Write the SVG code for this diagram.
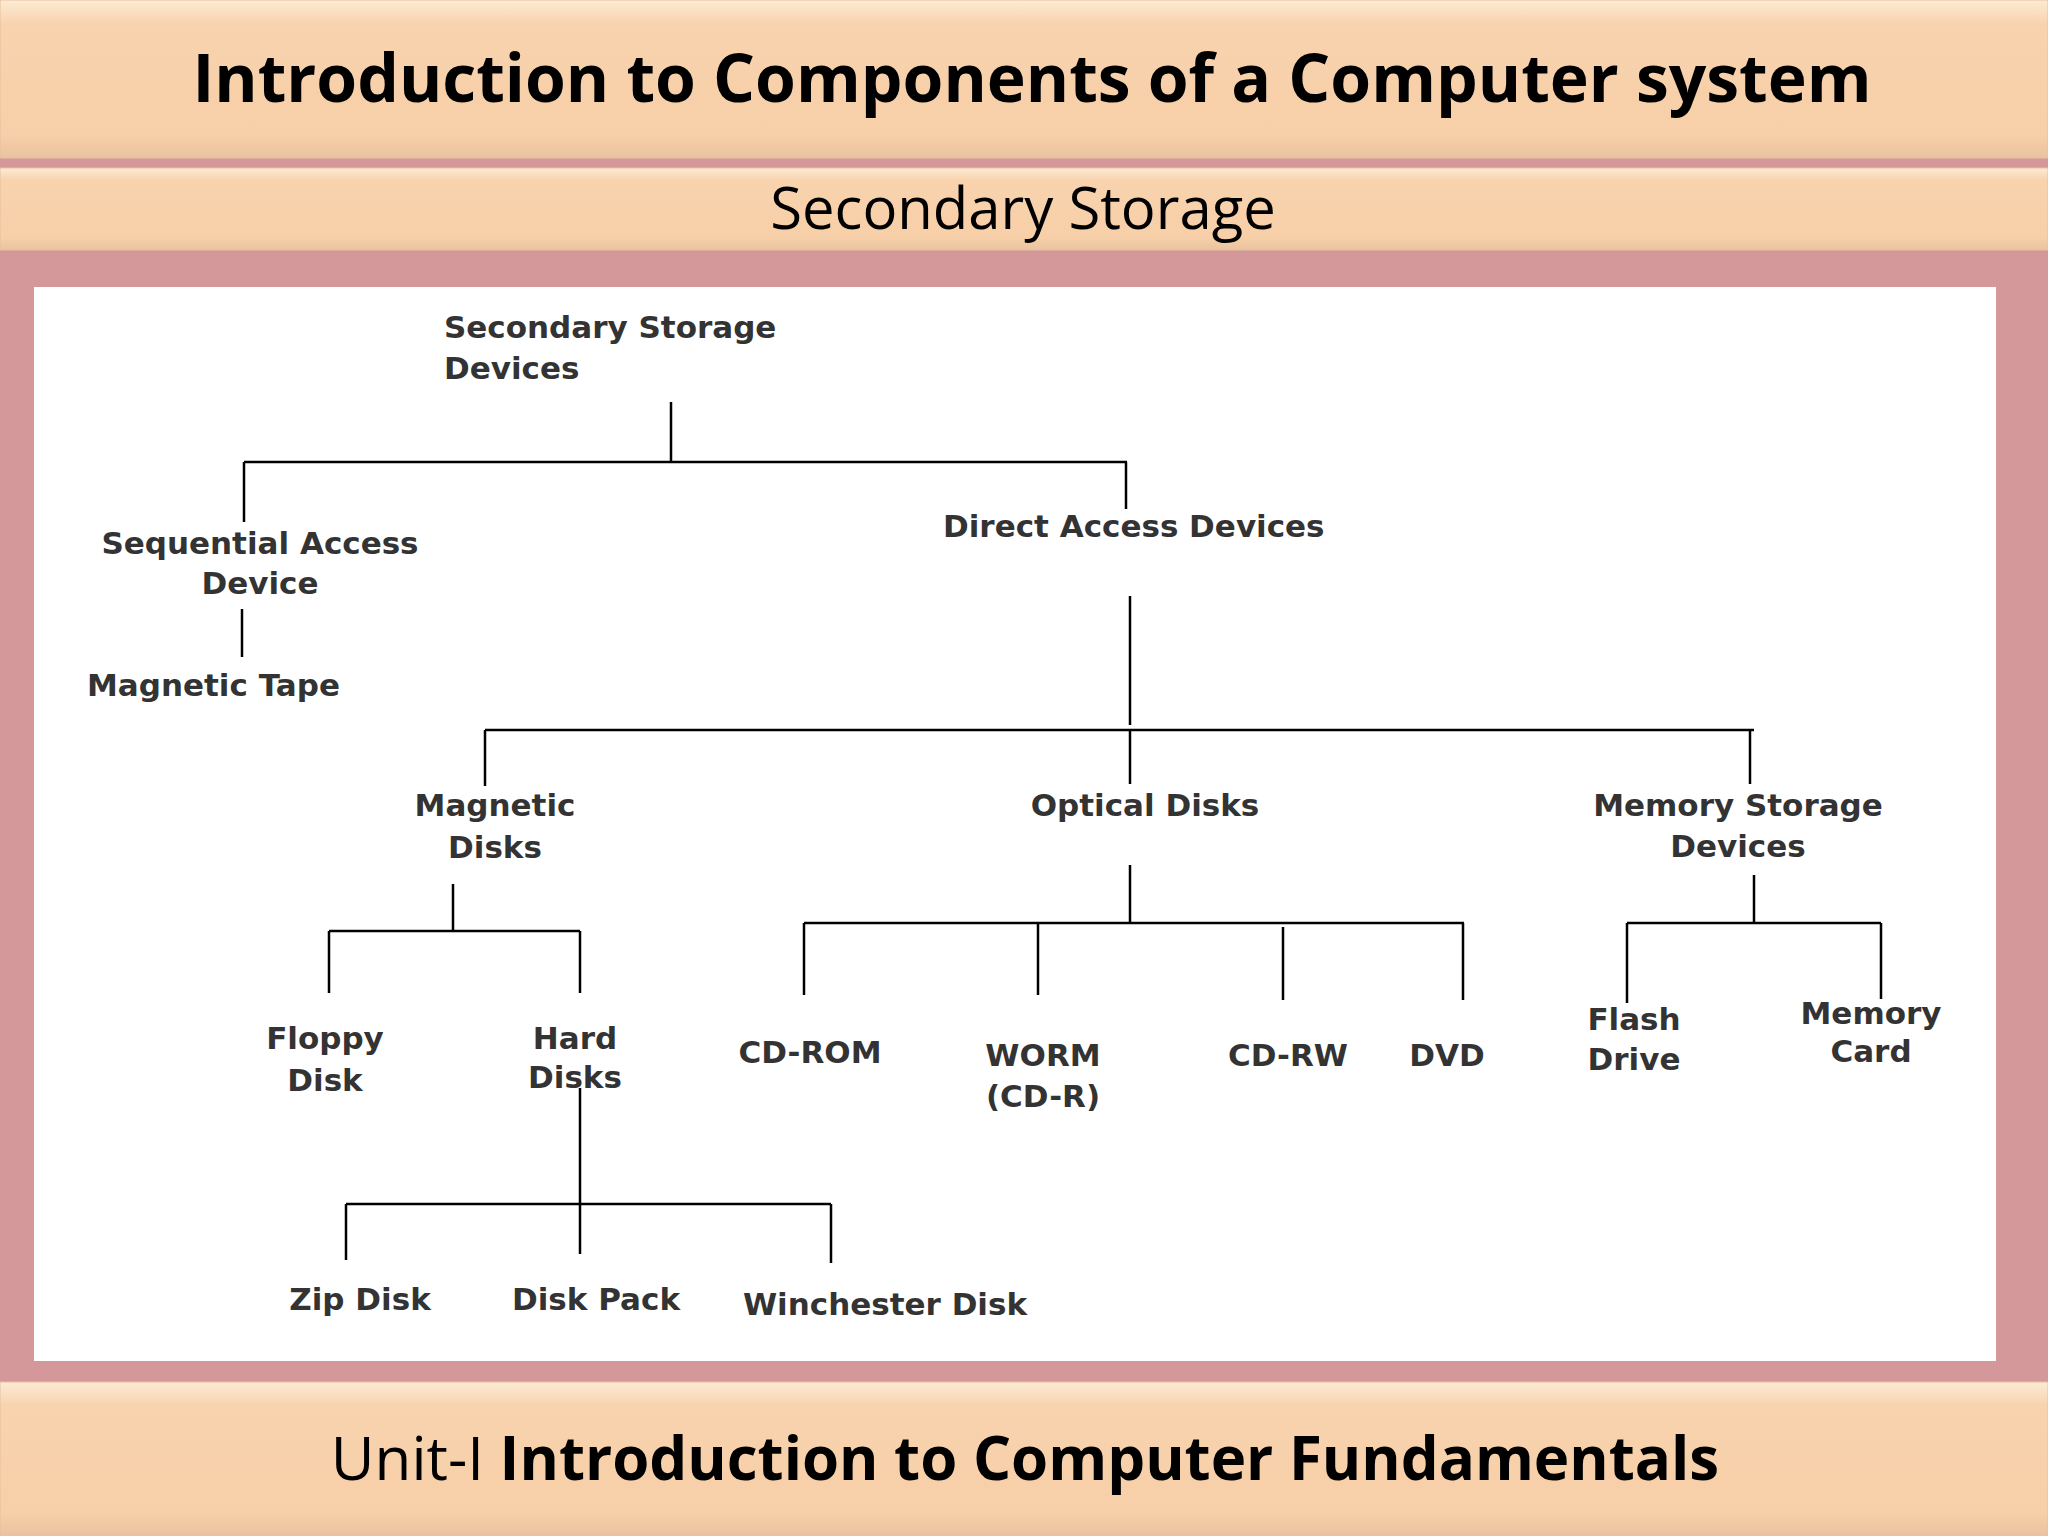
<svg xmlns="http://www.w3.org/2000/svg" width="2048" height="1536" viewBox="0 0 2048 1536">
<defs>
<linearGradient id="ban" x1="0" y1="0" x2="0" y2="1">
<stop offset="0" stop-color="#FCEBD5"/><stop offset="0.15" stop-color="#F8D3AE"/><stop offset="0.85" stop-color="#F7CFA8"/><stop offset="1" stop-color="#E9C3A0"/>
</linearGradient>
<style>
.t{font-family:"DejaVu Sans",Verdana,sans-serif;font-weight:bold;font-size:31px;fill:#333;text-anchor:middle}
.l{stroke:#000;stroke-width:2.5;fill:none}
</style>
</defs>
<rect width="2048" height="1536" fill="#D4989A"/>
<rect x="0" y="0" width="2048" height="158" fill="url(#ban)" stroke="#E6C09C"/>
<rect x="0" y="168" width="2048" height="82" fill="url(#ban)" stroke="#E6C09C"/>
<rect x="0" y="1382" width="2048" height="154" fill="url(#ban)" stroke="#E6C09C"/>
<text x="1032" y="102" font-family="'Open Sans',sans-serif" font-weight="bold" font-size="66" text-anchor="middle" fill="#000">Introduction to Components of a Computer system</text>
<text x="1023" y="229" font-family="'Open Sans',sans-serif" font-size="58" text-anchor="middle" fill="#000">Secondary Storage</text>
<text x="1025" y="1480" font-family="'Open Sans',sans-serif" font-size="60" text-anchor="middle" fill="#000">Unit-I <tspan font-weight="bold">Introduction to Computer Fundamentals</tspan></text>
<rect x="34" y="287" width="1962" height="1074" fill="#fff"/>
<g id="connectors" class="l">
<path d="M671 402V462M244 462H1127M244 462V522M1126 462V509"/>
<path d="M242 609V657"/>
<path d="M1130 596V725M485 730H1754M485 730V786M1130 730V784M1750 730V784"/>
<path d="M453 884V931M329 931H580M329 931V993M580 931V993"/>
<path d="M580 1088V1254M346 1204H831M346 1204V1260M831 1204V1263"/>
<path d="M1130 865V923M804 923H1464M804 923V995M1038 923V995M1283 927V1000M1463 923V1000"/>
<path d="M1754 875V923M1627 923H1881M1627 923V1003M1881 923V999"/>
</g>
<g id="root"><text class="t" x="444" y="338" text-anchor="start" style="text-anchor:start">Secondary Storage</text><text class="t" x="444" y="379" style="text-anchor:start">Devices</text></g>
<g id="seq"><text class="t" x="260" y="554">Sequential Access</text><text class="t" x="260" y="594">Device</text></g>
<g id="tape"><text class="t" x="87" y="696" style="text-anchor:start">Magnetic Tape</text></g>
<g id="direct"><text class="t" x="943" y="537" style="text-anchor:start">Direct Access Devices</text></g>
<g id="magdisks"><text class="t" x="495" y="816">Magnetic</text><text class="t" x="495" y="858">Disks</text></g>
<g id="optical"><text class="t" x="1145" y="816">Optical Disks</text></g>
<g id="memstore"><text class="t" x="1738" y="816">Memory Storage</text><text class="t" x="1738" y="857">Devices</text></g>
<g id="floppy"><text class="t" x="325" y="1049">Floppy</text><text class="t" x="325" y="1091">Disk</text></g>
<g id="hard"><text class="t" x="575" y="1049">Hard</text><text class="t" x="575" y="1088">Disks</text></g>
<g id="zip"><text class="t" x="360" y="1310">Zip Disk</text></g>
<g id="pack"><text class="t" x="596" y="1310">Disk Pack</text></g>
<g id="winch"><text class="t" x="885" y="1315">Winchester Disk</text></g>
<g id="cdrom"><text class="t" x="810" y="1063">CD-ROM</text></g>
<g id="worm"><text class="t" x="1043" y="1066">WORM</text><text class="t" x="1043" y="1107">(CD-R)</text></g>
<g id="cdrw"><text class="t" x="1288" y="1066">CD-RW</text></g>
<g id="dvd"><text class="t" x="1447" y="1066">DVD</text></g>
<g id="flash"><text class="t" x="1634" y="1030">Flash</text><text class="t" x="1634" y="1070">Drive</text></g>
<g id="card"><text class="t" x="1871" y="1024">Memory</text><text class="t" x="1871" y="1062">Card</text></g>
</svg>
